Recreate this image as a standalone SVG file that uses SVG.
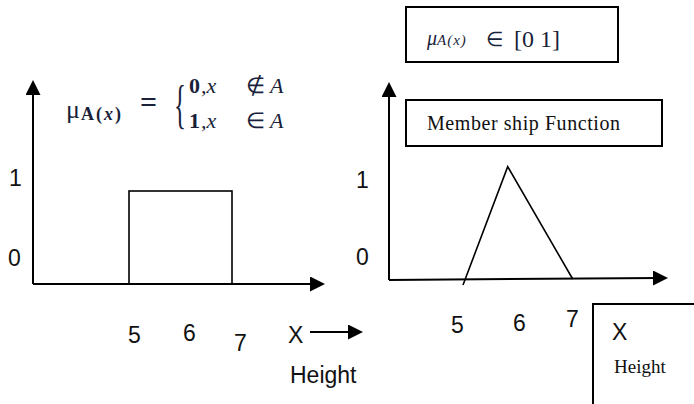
<svg xmlns="http://www.w3.org/2000/svg" width="694" height="404" viewBox="0 0 694 404">
<style>
.ax{stroke:#000;stroke-width:2;fill:none}
.sh{stroke:#000;stroke-width:1.6;fill:none}
.bx{stroke:#000;stroke-width:2;fill:#fff}
.lb{font-family:"Liberation Sans",Arial,sans-serif;font-size:23px;fill:#111}
.sf{font-family:"Liberation Serif","Times New Roman",serif;fill:#111}
.mt{font-family:"Liberation Serif","Times New Roman",serif;fill:#1a1f3a}
</style>
<defs>
<marker id="ah" viewBox="0 0 15 15" refX="7" refY="7.5" markerWidth="15" markerHeight="15" markerUnits="userSpaceOnUse" orient="auto">
<path d="M0,0 L15,7.5 L0,15 z" fill="#000"/>
</marker>
</defs>
<g id="connectors">
<line class="ax" x1="33" y1="284" x2="33" y2="88" marker-end="url(#ah)"/>
<line class="ax" x1="33" y1="284" x2="317" y2="284" marker-end="url(#ah)"/>
<line class="ax" x1="389" y1="280" x2="389" y2="90" marker-end="url(#ah)"/>
<line class="ax" x1="389" y1="280" x2="660" y2="278" marker-end="url(#ah)"/>
<line class="ax" x1="310" y1="332" x2="355" y2="332" marker-end="url(#ah)"/>
</g>
<g id="left-chart">
<rect class="sh" x="129" y="191" width="103" height="93"/>
<text class="lb" x="9" y="186">1</text>
<text class="lb" x="8" y="266">0</text>
<text class="lb" x="128" y="343">5</text>
<text class="lb" x="183" y="341">6</text>
<text class="lb" x="234" y="351">7</text>
<text class="lb" x="288" y="343">X</text>
<text class="lb" x="290" y="383">Height</text>
</g>
<g id="left-formula">
<text class="mt" x="66" y="118" font-size="26">μ</text>
<text class="mt" x="81" y="120" font-size="18" font-weight="bold" letter-spacing="2">A(<tspan font-style="italic">x</tspan>)</text>
<text class="mt" x="140" y="112" font-size="30" font-weight="bold">=</text>
<text class="mt" x="0" y="0" font-size="52" transform="translate(174,122) scale(0.48,1)">{</text>
<text class="mt" x="189" y="93" font-size="22" font-weight="bold">0</text>
<text class="mt" x="201" y="93" font-size="22" font-style="italic">,x</text>
<text class="mt" x="246" y="93" font-size="22">∉</text>
<text class="mt" x="270" y="93" font-size="22" font-style="italic">A</text>
<text class="mt" x="189" y="128" font-size="22" font-weight="bold">1</text>
<text class="mt" x="201" y="128" font-size="22" font-style="italic">,x</text>
<text class="mt" x="246" y="128" font-size="22">∈</text>
<text class="mt" x="270" y="128" font-size="22" font-style="italic">A</text>
</g>
<g id="range-box">
<rect class="bx" x="406" y="7" width="212" height="55"/>
<text class="mt" x="427" y="45" font-size="20" font-style="italic">μ<tspan font-size="15" letter-spacing="1">A(x)</tspan></text>
<text class="mt" x="486" y="46" font-size="20">∈</text>
<text class="mt" x="514" y="47" font-size="24">[0 1]</text>
</g>
<g id="membership-box">
<rect class="bx" x="406" y="100" width="256" height="46"/>
<text class="sf" x="427" y="130" font-size="20" textLength="193">Member ship Function</text>
</g>
<g id="right-chart">
<polyline class="sh" points="463,285 507.7,166.7 572.7,279"/>
<text class="lb" x="356" y="188">1</text>
<text class="lb" x="356" y="265">0</text>
<text class="lb" x="451" y="333">5</text>
<text class="lb" x="513" y="331">6</text>
<text class="lb" x="566" y="327">7</text>
</g>
<g id="axis-label-box">
<rect class="bx" x="593" y="304" width="110" height="110"/>
<text class="lb" x="612" y="340" font-size="21">X</text>
<text class="sf" x="614" y="373" font-size="19">Height</text>
</g>
</svg>
